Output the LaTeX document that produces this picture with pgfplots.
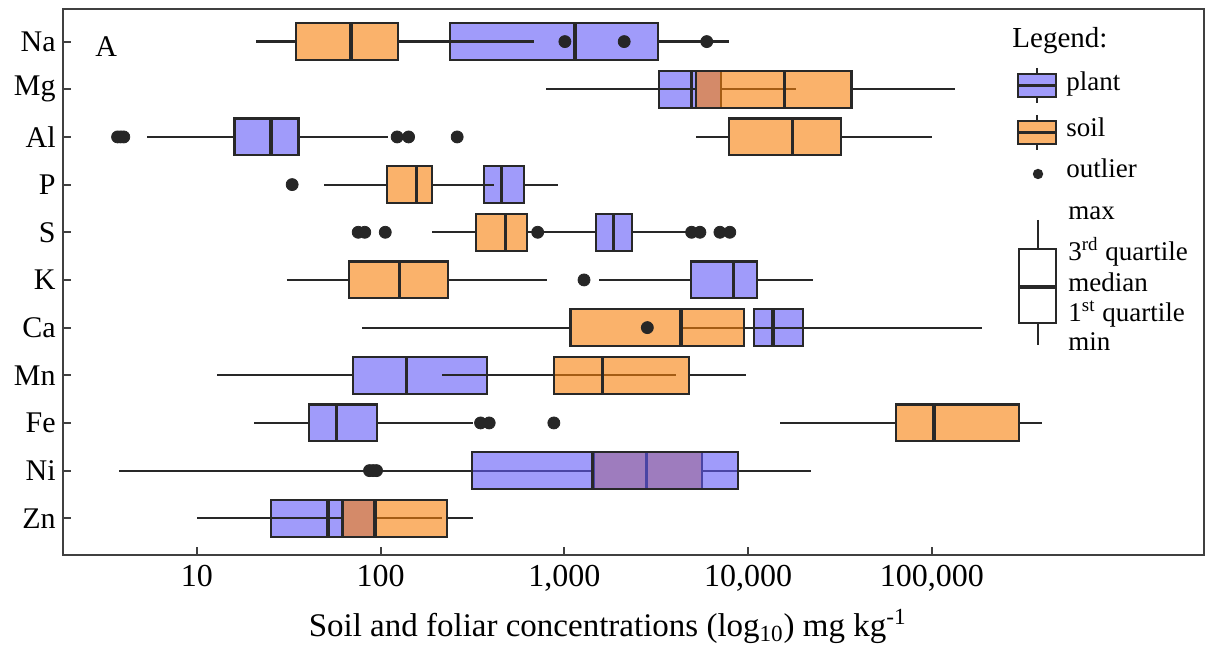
\documentclass[border=0pt]{standalone}
\usepackage{fontspec}
\setmainfont{Liberation Serif}
\usepackage{pgfplots}
\pgfplotsset{compat=1.18}
\usepgfplotslibrary{statistics}

\definecolor{plantc}{RGB}{97,88,247}
\definecolor{soilc}{RGB}{247,127,8}
\definecolor{edgec}{RGB}{40,40,40}
\definecolor{framec}{RGB}{64,64,64}
\definecolor{dotc}{RGB}{38,38,38}

\pgfplotsset{
  bx/.style={draw=edgec, line width=1.1pt, fill opacity=0.6, solid, mark=none},
  plant/.style={bx, fill=plantc},
  soil/.style={bx, fill=soilc},
  outl/.style={only marks, mark=*, mark size=3pt, color=dotc},
}

\begin{document}
\begin{tikzpicture}
\begin{axis}[
  scale only axis, width=570.6pt, height=272.9pt,
  xmode=log, xmin=1.86, xmax=3.03e6,
  ymin=0.23, ymax=11.68,
  boxplot/draw direction=x,
  boxplot/box extend=0.77,
  boxplot/whisker extend=0,
  boxplot/every median/.style={line width=1.7pt},
  xtick={10,100,1000,10000,100000},
  xticklabels={10,100,{1,000},{10,000},{100,000}},
  xminorticks=false,
  ytick={1,...,11},
  yticklabels={Zn,Ni,Fe,Mn,Ca,K,S,P,Al,Mg,Na},
  xtick pos=bottom, ytick pos=left,
  tick align=inside, major tick length=4pt,
  tick style={framec, line width=1pt},
  axis line style={framec, line width=1pt},
  ticklabel style={font=\fontsize{15}{18}\selectfont},
  xticklabel style={font=\fontsize{16}{19}\selectfont, yshift=-1.5pt},
  xlabel={Soil and foliar concentrations (log\textsubscript{10}) mg kg\textsuperscript{-1}},
  xlabel style={font=\fontsize{16.5}{19}\selectfont, xshift=-12.8pt, yshift=-2pt},
]
% soil under plant (Ni)
\addplot[soil, boxplot prepared={draw position=2, lower whisker=193, lower quartile=1440, median=2800, upper quartile=5610, upper whisker=13700}] coordinates {};
% plant
\addplot[plant, boxplot prepared={draw position=11, lower whisker=150, lower quartile=238, median=1143, upper quartile=3220, upper whisker=7870}] coordinates {};
\addplot[plant, boxplot prepared={draw position=10, lower whisker=795, lower quartile=3290, median=4930, upper quartile=7100, upper whisker=18240}] coordinates {};
\addplot[plant, boxplot prepared={draw position=9, lower whisker=5.36, lower quartile=16, median=25.3, upper quartile=35.7, upper whisker=110}] coordinates {};
\addplot[plant, boxplot prepared={draw position=8, lower whisker=250, lower quartile=365, median=456, upper quartile=605, upper whisker=918}] coordinates {};
\addplot[plant, boxplot prepared={draw position=7, lower whisker=740, lower quartile=1486, median=1846, upper quartile=2344, upper whisker=4730}] coordinates {};
\addplot[plant, boxplot prepared={draw position=6, lower whisker=1549, lower quartile=4890, median=8320, upper quartile=11170, upper whisker=22650}] coordinates {};
\addplot[plant, boxplot prepared={draw position=5, lower whisker=4300, lower quartile=10820, median=13700, upper quartile=19950, upper whisker=36600}] coordinates {};
\addplot[plant, boxplot prepared={draw position=4, lower whisker=12.8, lower quartile=71, median=138, upper quartile=378, upper whisker=4050}] coordinates {};
\addplot[plant, boxplot prepared={draw position=3, lower whisker=20.5, lower quartile=40.7, median=57.6, upper quartile=95.5, upper whisker=319}] coordinates {};
\addplot[plant, boxplot prepared={draw position=2, lower whisker=3.78, lower quartile=313, median=1426, upper quartile=8810, upper whisker=22100}] coordinates {};
\addplot[plant, boxplot prepared={draw position=1, lower whisker=10, lower quartile=25.2, median=51.6, upper quartile=92, upper whisker=215}] coordinates {};
% plant outlier hidden under the Ca soil box
\addplot[outl] coordinates {(2830,5)};
% soil
\addplot[soil, boxplot prepared={draw position=11, lower whisker=21, lower quartile=34.6, median=69, upper quartile=124, upper whisker=684}] coordinates {};
\addplot[soil, boxplot prepared={draw position=10, lower whisker=1313, lower quartile=5200, median=15740, upper quartile=36600, upper whisker=133700}] coordinates {};
\addplot[soil, boxplot prepared={draw position=9, lower whisker=5200, lower quartile=7870, median=17500, upper quartile=32100, upper whisker=100000}] coordinates {};
\addplot[soil, boxplot prepared={draw position=8, lower whisker=49.3, lower quartile=108, median=157, upper quartile=190, upper whisker=414}] coordinates {};
\addplot[soil, boxplot prepared={draw position=7, lower whisker=191, lower quartile=329, median=479, upper quartile=624, upper whisker=680}] coordinates {};
\addplot[soil, boxplot prepared={draw position=6, lower whisker=30.8, lower quartile=67, median=127, upper quartile=233, upper whisker=807}] coordinates {};
\addplot[soil, boxplot prepared={draw position=5, lower whisker=79.4, lower quartile=1081, median=4310, upper quartile=9500, upper whisker=188000}] coordinates {};
\addplot[soil, boxplot prepared={draw position=4, lower whisker=217, lower quartile=877, median=1614, upper quartile=4790, upper whisker=9750}] coordinates {};
\addplot[soil, boxplot prepared={draw position=3, lower whisker=15000, lower quartile=63800, median=103000, upper quartile=298000, upper whisker=396000}] coordinates {};
\addplot[soil, boxplot prepared={draw position=1, lower whisker=21.8, lower quartile=62, median=93, upper quartile=229, upper whisker=319}] coordinates {};
% outliers
\addplot[outl] coordinates {
  (1007,11) (2118,11) (5960,11)
  (3.7,9) (3.85,9) (4.0,9) (123,9) (142,9) (261,9)
  (33,8)
  (75.5,7) (82,7) (106,7) (716,7) (4930,7) (5470,7) (7030,7) (7960,7)
  (1280,6)
  (350,3) (390,3) (877,3)
  (87,2) (91,2) (95,2)
};
\end{axis}
% legend and panel letter, in reference pixel units
\begin{scope}[shift={(current axis.south west)}, x=0.5pt, y=-0.5pt, shift={(-62.7,-555)}]
  \path (0,0) rectangle (1214,648);
  \node[anchor=base west, inner sep=0, font=\fontsize{15}{18}\selectfont] at (95,57) {A};
  \node[anchor=base west, inner sep=0, font=\fontsize{14.5}{17}\selectfont] at (1012,48) {Legend:};
  \begin{scope}[edgec, line width=1.1pt]
    \draw (1037,68) -- (1037,74) (1037,97) -- (1037,103);
    \draw[fill=plantc, fill opacity=0.6] (1018,74) rectangle (1056,97);
    \draw (1018,85.5) -- (1056,85.5);
    \draw (1037,115) -- (1037,121) (1037,144) -- (1037,150);
    \draw[fill=soilc, fill opacity=0.6] (1018,121) rectangle (1056,144);
    \draw (1018,132.5) -- (1056,132.5);
    \fill[dotc] (1038,174) circle[radius=2.6pt];
    \draw (1038,220) -- (1038,249) (1038,323) -- (1038,345);
    \draw[fill=white] (1019,249) rectangle (1056,323);
    \draw[line width=1.6pt] (1019,287) -- (1056,287);
  \end{scope}
  \begin{scope}[every node/.style={anchor=base west, inner sep=0, font=\fontsize{13.5}{16}\selectfont}]
    \node at (1066,91) {plant};
    \node at (1066,137) {soil};
    \node at (1066,178) {outlier};
    \node at (1068,220) {max};
    \node at (1068,261) {3\textsuperscript{rd} quartile};
    \node at (1068,292) {median};
    \node at (1068,322) {1\textsuperscript{st} quartile};
    \node at (1068,351) {min};
  \end{scope}
\end{scope}
\end{tikzpicture}
\end{document}
